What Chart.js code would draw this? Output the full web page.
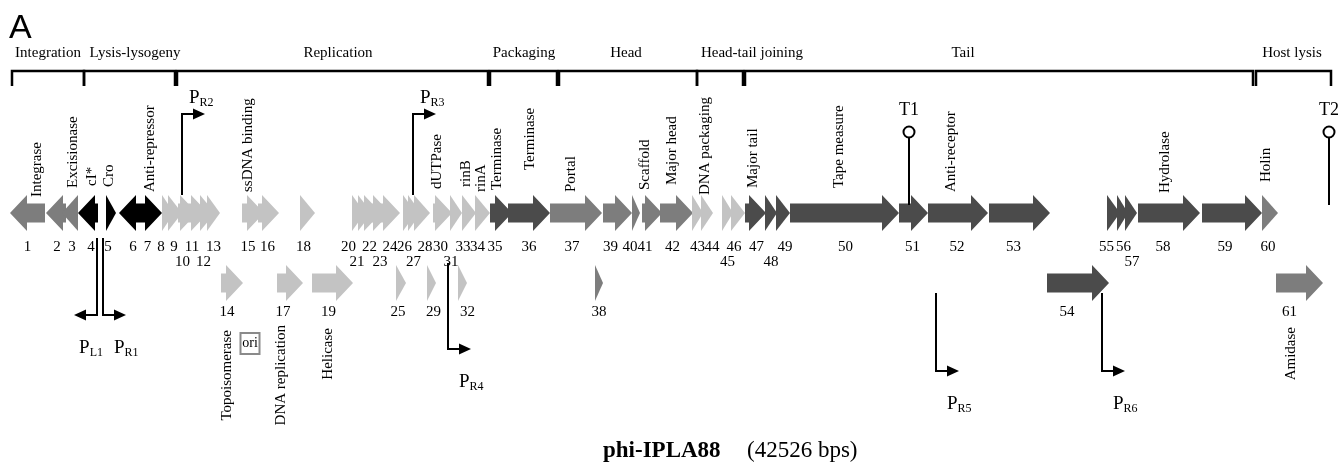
<!DOCTYPE html>
<html><head><meta charset="utf-8">
<script src="https://cdn.jsdelivr.net/npm/chart.js@4.4.0/dist/chart.umd.min.js"></script>
<style>html,body{margin:0;padding:0;background:#fff;overflow:hidden}canvas{display:block}</style>
</head><body><canvas id="c" width="1341" height="463"></canvas>
<script>
// ---------- DATA (map units along the genome map) ----------
const geneIds    = ['1','2','3','4','5','6','7','8','9','10','11','12','13','15','16','18','20','21','22','23','24','26','27','28','30','31','33','34','35','36','37','39','40','41','42','43','44','45','46','47','48','49','50','51','52','53','55','56','57','58','59','60',
                    '14','17','19','25','29','32','38','54','61'];
const geneStart  = [10,46,62,78,106,119,141,162,168,178,188,200,207,242,258,300,352,358,364,372,380,403,408,414,433,450,462,475,490,508,550,603,632,642,660,692,701,722,731,745,765,776,790,899,928,989,1107,1117,1125,1138,1202,1262,
                    221,277,312,396,427,458,595,1047,1276];
const geneEnd    = [45,66,78,98,116,141,162,174,182,197,208,215,220,264,279,315,365,372,381,390,400,416,421,430,452,462,476,490,512,550,602,632,640,662,693,703,713,733,745,766,777,790,899,928,988,1050,1120,1128,1137,1200,1262,1278,
                    243,303,353,406,436,467,603,1109,1323];
const geneStrand = [-1,-1,-1,-1,1,-1,1,1,1,1,1,1,1,1,1,1,1,1,1,1,1,1,1,1,1,1,1,1,1,1,1,1,1,1,1,1,1,1,1,1,1,1,1,1,1,1,1,1,1,1,1,1,
                    1,1,1,1,1,1,1,1,1];
const geneTrack  = [0,0,0,0,0,0,0,0,0,0,0,0,0,0,0,0,0,0,0,0,0,0,0,0,0,0,0,0,0,0,0,0,0,0,0,0,0,0,0,0,0,0,0,0,0,0,0,0,0,0,0,0,
                    1,1,1,1,1,1,1,1,1];
const geneClass  = ['mid','mid','mid','black','black','black','black',
                    'light','light','light','light','light','light','light','light','light','light','light','light','light','light','light','light','light','light','light','light','light',
                    'dark','dark','mid','mid','mid','mid','mid','light','light','light','light',
                    'dark','dark','dark','dark','dark','dark','dark','dark','dark','dark','dark','dark','mid',
                    'light','light','light','light','light','light','mid','dark','mid'];
const numberTier = {'10':1,'12':1,'21':1,'23':1,'27':1,'31':1,'45':1,'48':1,'57':1};

const labelText = ['Integrase','Excisionase','cI*','Cro','Anti-repressor','ssDNA binding','dUTPase','rinB','rinA','Terminase','Terminase','Portal','Scaffold','Major head','DNA packaging','Major tail','Tape measure','Anti-receptor','Hydrolase','Holin',
                   'Topoisomerase','DNA replication','Helicase','Amidase'];
const labelGene = ['1','3','4','5','7','15','30','33','34','35','36','37','41','42','44','47','50','52','58','60','14','17','19','61'];

const sectionName  = ['Integration','Lysis-lysogeny','Replication','Packaging','Head','Head-tail joining','Tail','Host lysis'];
const sectionFrom  = [12,84,177,490,559,697,745,1256];
const sectionTo    = [84,175,488,557,697,743,1253,1331];
const sectionLabel = [48,135,338,524,626,752,963,1292];

const promoterName   = ['L1','R1','R2','R3','R4','R5','R6'];
const promoterPos    = [97,103,182,413,448,936,1102];
const promoterStrand = [-1,1,1,1,1,1,1];

const terminatorName = ['T1','T2'];
const terminatorPos  = [909,1329];
const oriPos = 250;
const phageName = 'phi-IPLA88';
const genomeSize = '(42526 bps)';

// ---------- LAYOUT / STYLE ----------
const colors = {light:'#c3c3c3', mid:'#7d7d7d', dark:'#4b4b4b', black:'#000000'};
const L = {
  mainY:213, lowerY:283, numY:[247,262], lowerNumY:312,
  headLen:17, headHalf:18, bodyHalf:9.5,
  // horizontal nudges of the gene-number labels (same order as geneIds)
  numberDx:[0,1,2,3,-3,3,-4,-7,-1,-5,-6,-4,0,-5,-1,-4,-10,-8,-3,-1,0,-5,-1,3,-2,-5,-6,-5,-6,0,-4,-7,-6,-7,-4,0,5,0,-4,1,0,2,1,-1,-1,-6,-7,1,1,-6,-7,-2,
            -5,-7,-4,-3,2,5,0,-11,-10],
  labelDx:[10,3,4,-2,-1,-5,-5,-3,-1,-4,1,-5,-7,-4,-2,-2,-5,-7,-4,-4,-5,-9,-4,-8],
  labelGap:[16,25,27,26,21,21,24,26,21,23,43,21,23,28,18,25,25,21,20,31,47,42,45,44],
  bracketY:71, bracketTick:86, sectionBase:57,
  promStem:[[238,315],[238,315],[195,114],[195,114],[263,349],[293,371],[293,371]],
  termTop:132, termBottom:205, termText:115
};
const SERIF = '"Liberation Serif","Times New Roman",serif';

const mapPlugin = {
  id:'genomeMap',
  beforeDraw(chart){
    const c = chart.ctx; c.save(); c.fillStyle='#fff'; c.fillRect(0,0,chart.width,chart.height); c.restore();
  },
  afterDraw(chart){
    const ctx = chart.ctx;
    const X = v => chart.scales.x.getPixelForValue(v);
    const Y = v => chart.scales.y.getPixelForValue(v);
    ctx.save();
    // panel letter
    ctx.fillStyle='#000';
    ctx.font='34px "Liberation Sans",Arial,sans-serif';
    ctx.textAlign='left'; ctx.textBaseline='alphabetic';
    ctx.fillText('A', X(9), Y(38));

    // section brackets
    ctx.strokeStyle='#000'; ctx.lineWidth=2.5; ctx.lineCap='butt'; ctx.lineJoin='miter';
    for(let i=0;i<sectionName.length;i++){
      const a=X(sectionFrom[i]), b=X(sectionTo[i]);
      ctx.beginPath();
      ctx.moveTo(a,Y(L.bracketTick)); ctx.lineTo(a,Y(L.bracketY)); ctx.lineTo(b,Y(L.bracketY)); ctx.lineTo(b,Y(L.bracketTick));
      ctx.stroke();
      ctx.font='15px '+SERIF; ctx.textAlign='center'; ctx.textBaseline='alphabetic';
      ctx.fillText(sectionName[i], X(sectionLabel[i]), Y(L.sectionBase));
    }

    // genes
    const idx = {};
    for(let i=0;i<geneIds.length;i++){
      idx[geneIds[i]] = i;
      const cy = Y(geneTrack[i]===0?L.mainY:L.lowerY);
      const x1=X(geneStart[i]), x2=X(geneEnd[i]);
      const HL=L.headLen, HH=L.headHalf, BH=L.bodyHalf;
      ctx.beginPath();
      if(geneStrand[i]>0){
        const hb=Math.max(x1,x2-HL);
        ctx.moveTo(x1,cy-BH); ctx.lineTo(hb,cy-BH); ctx.lineTo(hb,cy-HH); ctx.lineTo(x2,cy);
        ctx.lineTo(hb,cy+HH); ctx.lineTo(hb,cy+BH); ctx.lineTo(x1,cy+BH);
      } else {
        const hb=Math.min(x2,x1+HL);
        ctx.moveTo(x2,cy-BH); ctx.lineTo(hb,cy-BH); ctx.lineTo(hb,cy-HH); ctx.lineTo(x1,cy);
        ctx.lineTo(hb,cy+HH); ctx.lineTo(hb,cy+BH); ctx.lineTo(x2,cy+BH);
      }
      ctx.closePath();
      ctx.fillStyle=colors[geneClass[i]];
      ctx.fill();
    }
    // gene numbers
    ctx.fillStyle='#000'; ctx.font='15px '+SERIF; ctx.textAlign='center'; ctx.textBaseline='middle';
    for(let i=0;i<geneIds.length;i++){
      const mx = X((geneStart[i]+geneEnd[i])/2 + L.numberDx[i]);
      const y = geneTrack[i]===0 ? L.numY[numberTier[geneIds[i]]||0] : L.lowerNumY;
      ctx.fillText(geneIds[i], mx, Y(y));
    }
    // function labels (rotated)
    ctx.font='15px '+SERIF; ctx.textBaseline='middle';
    for(let k=0;k<labelText.length;k++){
      const i = idx[labelGene[k]];
      const mx = X((geneStart[i]+geneEnd[i])/2 + L.labelDx[k]);
      ctx.save();
      if(geneTrack[i]===0){
        ctx.translate(mx, Y(L.mainY - L.labelGap[k])); ctx.rotate(-Math.PI/2);
        ctx.textAlign='left';
      } else {
        ctx.translate(mx, Y(L.lowerY + L.labelGap[k])); ctx.rotate(-Math.PI/2);
        ctx.textAlign='right';
      }
      ctx.fillText(labelText[k],0,0);
      ctx.restore();
    }

    // promoters
    ctx.lineWidth=2; ctx.strokeStyle='#000'; ctx.fillStyle='#000';
    for(let p=0;p<promoterName.length;p++){
      const x=X(promoterPos[p]), s=promoterStrand[p];
      const y0=Y(L.promStem[p][0]), y1=Y(L.promStem[p][1]);
      ctx.beginPath(); ctx.moveTo(x,y0); ctx.lineTo(x,y1); ctx.lineTo(x+s*12,y1); ctx.stroke();
      ctx.beginPath(); ctx.moveTo(x+s*11,y1-5.5); ctx.lineTo(x+s*23,y1); ctx.lineTo(x+s*11,y1+5.5); ctx.closePath(); ctx.fill();
      const above = y1 < y0;
      ctx.textBaseline='alphabetic'; ctx.textAlign='left';
      ctx.font='19px '+SERIF; const wP=ctx.measureText('P').width;
      ctx.font='12px '+SERIF; const wS=ctx.measureText(promoterName[p]).width;
      let left, base;
      if(above){ left=x+7; base=y1-11; }
      else { base=y1+38; left = s>0 ? x+11 : x+6-(wP+wS); }
      ctx.font='19px '+SERIF; ctx.fillText('P',left,base);
      ctx.font='12px '+SERIF; ctx.fillText(promoterName[p],left+wP,base+3);
    }

    // terminators
    for(let t=0;t<terminatorName.length;t++){
      const x=X(terminatorPos[t]);
      ctx.beginPath(); ctx.moveTo(x,Y(L.termBottom)); ctx.lineTo(x,Y(L.termTop)+5.5); ctx.stroke();
      ctx.beginPath(); ctx.arc(x,Y(L.termTop),5.5,0,Math.PI*2); ctx.fillStyle='#fff'; ctx.fill(); ctx.stroke();
      ctx.fillStyle='#000'; ctx.font='18px '+SERIF; ctx.textAlign='center'; ctx.textBaseline='alphabetic';
      ctx.fillText(terminatorName[t], x, Y(L.termText));
    }

    // ori box
    const ox=X(oriPos), oy=Y(343.5);
    ctx.strokeStyle='#8a8a8a'; ctx.lineWidth=2;
    ctx.strokeRect(ox-9.5,oy-10.5,19,21);
    ctx.fillStyle='#000'; ctx.font='14px '+SERIF; ctx.textAlign='center'; ctx.textBaseline='middle';
    ctx.fillText('ori',ox,oy);

    // title
    ctx.textAlign='left'; ctx.textBaseline='alphabetic';
    ctx.font='bold 23px '+SERIF; ctx.fillText(phageName, X(603), Y(457));
    ctx.font='23px '+SERIF; ctx.fillText(genomeSize, X(747), Y(457));
    ctx.restore();
  }
};

new Chart(document.getElementById('c'), {
  type:'scatter',
  data:{datasets:[{data:geneIds.map((g,i)=>({x:(geneStart[i]+geneEnd[i])/2,y:geneTrack[i]===0?L.mainY:L.lowerY})),pointRadius:0,showLine:false}]},
  options:{
    responsive:false, devicePixelRatio:1, animation:false,
    layout:{padding:0},
    plugins:{legend:{display:false},tooltip:{enabled:false}},
    events:[],
    scales:{
      x:{type:'linear',min:0,max:1341,display:false},
      y:{type:'linear',min:0,max:463,reverse:true,display:false}
    }
  },
  plugins:[mapPlugin]
});
</script></body></html>
